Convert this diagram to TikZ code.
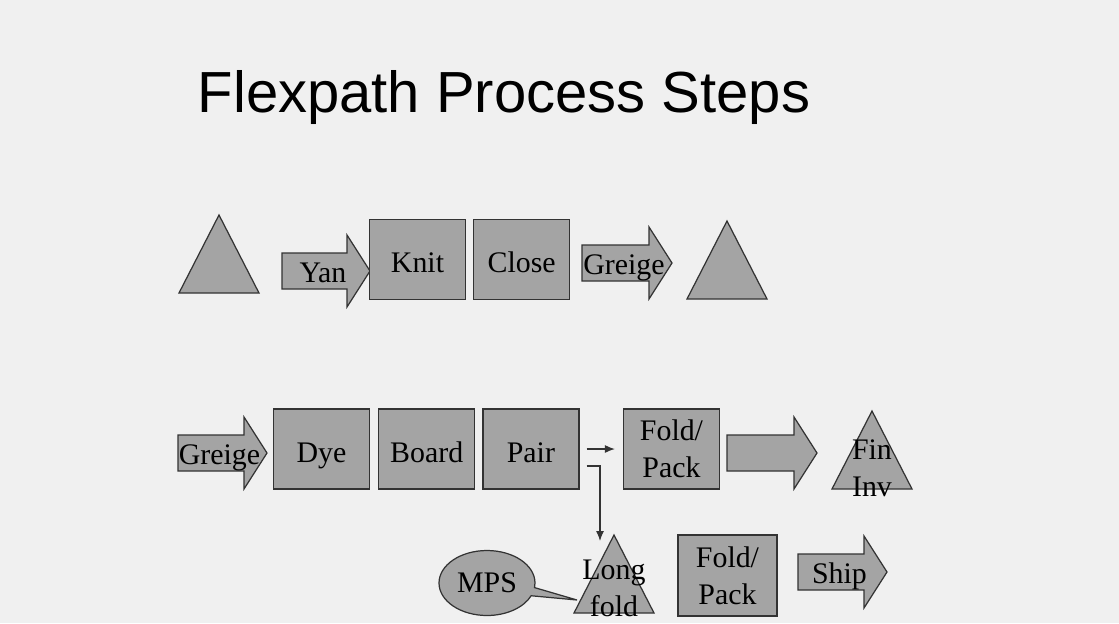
\documentclass[tikz,border=0pt]{standalone}
\usepackage{fontspec}
\setmainfont{Liberation Serif}
\newfontfamily\titlefont{Liberation Sans}
\usetikzlibrary{positioning}
\usetikzlibrary{arrows.meta}
\usetikzlibrary{shapes.callouts}
\definecolor{paper}{HTML}{F0F0F0}
\definecolor{stockgray}{HTML}{A4A4A4}
\definecolor{edgegray}{HTML}{333333}

% block arrow: name, left x, tip x, mid y, text
\newcommand{\fatarrow}[5]{%
  \filldraw[stock] (#2,#4-18) -- (#3-23,#4-18) -- (#3-23,#4-36) -- (#3,#4) -- (#3-23,#4+36) -- (#3-23,#4+18) -- (#2,#4+18) -- cycle;
  \node[arrlbl] (#1) at ({(#2+#3)/2-3},#4) {#5};}
% stock triangle: name, apex x, apex y, text, text y
\newcommand{\stocktri}[5]{%
  \filldraw[stock] (#2,#3) -- ++(-40,78) -- ++(80,0) -- cycle;
  \node[lbl] (#1) at (#2,#5) {#4};}

\begin{document}
\begin{tikzpicture}[x=0.02cm, y=-0.02cm, font=\fontsize{17}{21}\selectfont,
  stock/.style = {draw=edgegray, fill=stockgray, line width=0.7pt},
  box/.style = {stock, minimum width=1.92cm, minimum height=1.6cm, text height=15pt, text depth=0pt},
  box2/.style = {stock, minimum width=1.92cm, minimum height=1.6cm, align=center},
  lbl/.style = {inner sep=0pt, align=center},
  arrlbl/.style = {inner sep=0pt, text height=13pt, text depth=0pt},
  flow/.style = {-{Latex[length=2mm,width=1.6mm]}, line width=0.7pt, draw=edgegray}]
  \fill[paper] (0,0) rectangle (1119,623);
  \useasboundingbox (0,0) rectangle (1119,623);

  \node[font=\titlefont\fontsize{33}{39}\selectfont, anchor=base] (title) at (504,112) {Flexpath Process Steps};

  % knitting line
  \stocktri{yarninv}{219}{215}{}{260}
  \fatarrow{yan}{282}{370}{271}{Yan}
  \node[box] (knit) at (417.5,259.5) {Knit};
  \node[box] (close) [right=1.4mm of knit] {Close};
  \fatarrow{greigeA}{582}{672}{263}{Greige}
  \stocktri{greigeinv}{727}{221}{}{266}

  % finishing line
  \fatarrow{greigeB}{178}{267}{453}{Greige}
  \node[box] (dye) at (321.5,449) {Dye};
  \node[box] (board) [right=1.6mm of dye] {Board};
  \node[box] (pair) [right=1.4mm of board] {Pair};
  \node[box2] (fold1) at (671.5,449) {Fold/\\Pack};
  \fatarrow{toinv}{727}{817}{453}{}
  \stocktri{fininv}{872}{411}{Fin\\Inv}{468}

  % long fold branch
  \stocktri{longfold}{614}{535}{Long\\fold}{588}
  \coordinate (mpstip) at (577,600);
  \node[ellipse callout, stock, minimum width=1.92cm, minimum height=1.3cm, inner sep=0pt,
        callout absolute pointer=(mpstip)] (mps) at (487,583) {MPS};
  \node[box2, minimum width=1.98cm, minimum height=1.62cm] (fold2) at (727.5,575.5) {Fold/\\Pack};
  \fatarrow{ship}{798}{887}{572}{Ship}

  \coordinate (dropend) at (600,541);
  \draw[flow, shorten <=1.4mm, shorten >=1.6mm] (pair) -- (fold1);
  \draw[flow] ([shift={(7,17)}]pair.east) -| (dropend);
\end{tikzpicture}
\end{document}
